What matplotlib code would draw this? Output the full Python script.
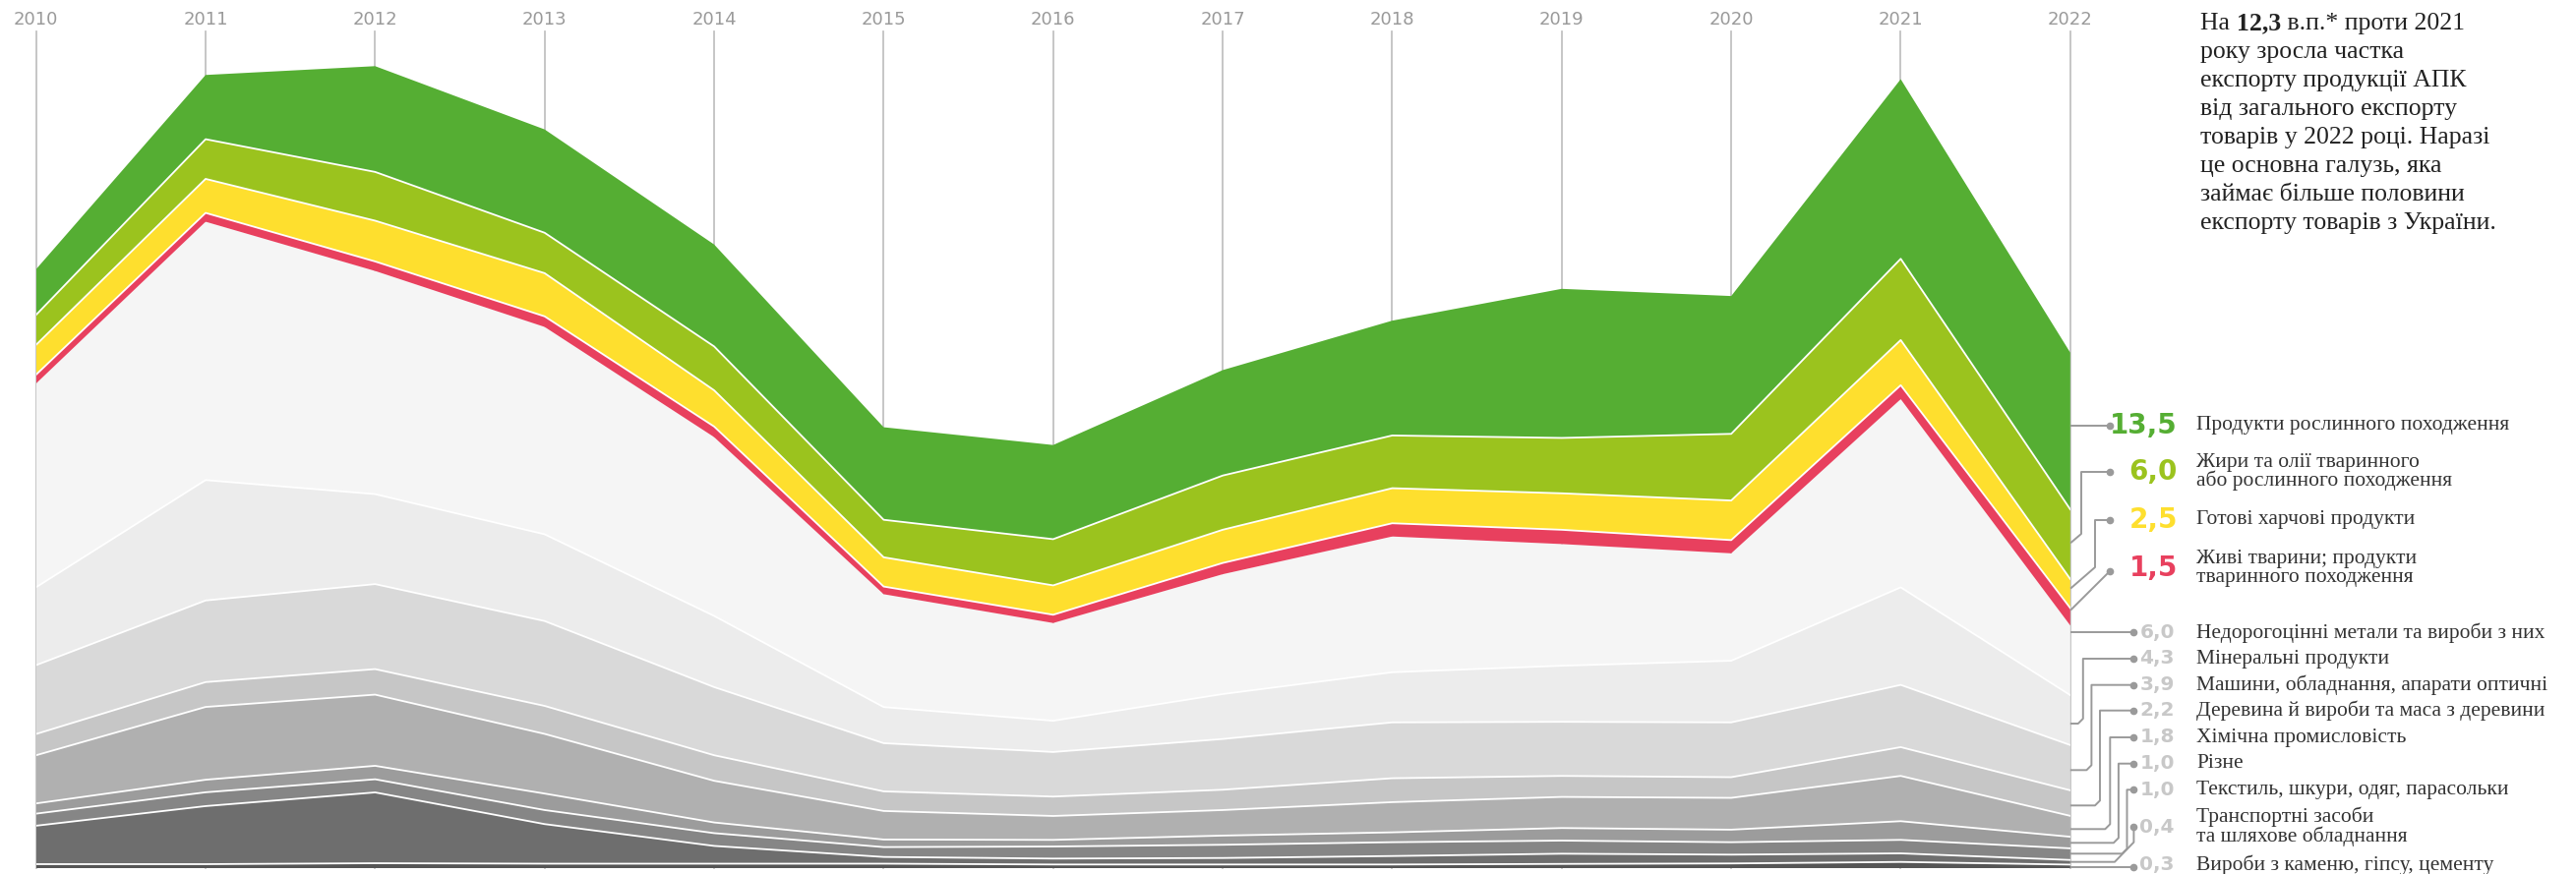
import numpy as np
import matplotlib.pyplot as plt
from matplotlib.transforms import blended_transform_factory

W, H = 2619, 889
years = list(range(2010, 2023))

# export by product group, bn USD (stack order: bottom -> top)
stone     = [0.34, 0.34, 0.42, 0.38, 0.38, 0.38, 0.31, 0.31, 0.31, 0.36, 0.40, 0.53, 0.3]
transport = [3.31, 5.00, 6.10, 3.41, 1.53, 0.58, 0.51, 0.56, 0.73, 0.88, 0.76, 0.74, 0.4]
textile   = [1.04, 1.19, 1.13, 1.21, 1.10, 0.85, 1.04, 1.14, 1.19, 1.13, 1.07, 1.16, 1.0]
misc      = [0.88, 1.08, 1.16, 1.42, 0.92, 0.65, 0.57, 0.79, 0.85, 1.08, 1.08, 1.61, 1.0]
chem      = [4.15, 6.27, 6.13, 5.14, 3.59, 2.46, 2.06, 2.20, 2.60, 2.68, 2.74, 3.90, 1.8]
wood      = [1.83, 2.14, 2.20, 2.41, 2.20, 1.69, 1.67, 1.75, 2.06, 1.81, 1.78, 2.48, 2.2]
machines  = [5.93, 7.03, 7.32, 7.31, 5.87, 4.15, 3.84, 4.37, 4.81, 4.66, 4.72, 5.36, 3.9]
mineral   = [6.71, 10.37, 7.75, 7.47, 6.13, 3.11, 2.69, 3.87, 4.32, 4.83, 5.31, 8.40, 4.3]
metals    = [17.55, 22.25, 19.22, 17.86, 15.40, 9.72, 8.42, 10.32, 11.69, 10.48, 9.25, 16.21, 6.0]
live      = [0.76, 0.76, 0.82, 0.91, 0.91, 0.66, 0.71, 0.97, 1.14, 1.23, 1.14, 1.20, 1.5]
food      = [2.57, 2.93, 3.51, 3.72, 3.12, 2.52, 2.53, 2.86, 3.02, 3.14, 3.41, 3.89, 2.5]
fats      = [2.58, 3.42, 4.20, 3.48, 3.78, 3.23, 3.98, 4.67, 4.54, 4.77, 5.74, 7.00, 6.0]
plant     = [3.93, 5.53, 9.11, 8.90, 8.78, 7.97, 8.11, 9.08, 9.89, 12.84, 11.87, 15.47, 13.5]

layers = [stone, transport, textile, misc, chem, wood, machines, mineral, metals,
          live, food, fats, plant]
colors = ['#555555', '#6e6e6e', '#868686', '#9c9c9c', '#b0b0b0', '#c6c6c6', '#d9d9d9',
          '#ececec', '#f5f5f5', '#e8405e', '#fedf2e', '#9bc31e', '#55ae33']

names_agri = ['Продукти рослинного походження',
              'Жири та олії тваринного\nабо рослинного походження',
              'Готові харчові продукти',
              'Живі тварини; продукти\nтваринного походження']
names_other = ['Недорогоцінні метали та вироби з них', 'Мінеральні продукти',
               'Машини, обладнання, апарати оптичні', 'Деревина й вироби та маса з деревини',
               'Хімічна промисловість', 'Різне', 'Текстиль, шкури, одяг, парасольки',
               'Транспортні засоби\nта шляхове обладнання', 'Вироби з каменю, гіпсу, цементу']

note = ['року зросла частка', 'експорту продукції АПК', 'від загального експорту',
        'товарів у 2022 році. Наразі', 'це основна галузь, яка',
        'займає більше половини', 'експорту товарів з України.']

fig = plt.figure(figsize=(W / 100, H / 100), dpi=100)
x0, x1, ybase, ytop = 36.7, 2104.8, 883, 32
px_per_unit = 11.81
ax = fig.add_axes([x0 / W, (H - ybase) / H, (x1 - x0) / W, (ybase - ytop) / H])
ax.stackplot(years, *layers, colors=colors, linewidth=0, zorder=2)
cum = np.cumsum(layers, axis=0)
for i in range(len(layers) - 1):
    if i == 8:  # no separator between metals and live animals
        continue
    ax.plot(years, cum[i], color='white', lw=1.3, zorder=3)
for yr in years:
    ax.axvline(yr, color='#c2c2c2', lw=1.3, zorder=1, clip_on=False)
ax.set_xlim(2010, 2022)
ax.set_ylim(0, (ybase - ytop) / px_per_unit)
ax.axis('off')

ov = fig.add_axes([0, 0, 1, 1], zorder=5)
ov.set_xlim(0, W)
ov.set_ylim(H, 0)
ov.axis('off')
ov.patch.set_alpha(0)

tr = blended_transform_factory(ax.transData, ov.transData)
for yr in years:
    ov.text(yr, 20, str(yr), transform=tr, ha='center', va='center',
            fontsize=13, color='#9a9a9a', family='DejaVu Sans')

# note at top right
serif = 'Liberation Serif'
t = ov.text(2237, 30, 'На ', fontsize=18.5, family=serif, color='#222222', va='baseline')
t = ov.annotate('12,3', xy=(1, 0), xycoords=t, va='bottom', fontsize=18.5,
                family=serif, fontweight='bold', color='#222222')
ov.annotate(' в.п.* проти 2021', xy=(1, 0), xycoords=t, va='bottom', fontsize=18.5,
            family=serif, color='#222222')
for i, line in enumerate(note):
    ov.text(2237, 30 + 29.0 * (i + 1), line, fontsize=18.5, family=serif,
            color='#222222', va='baseline')

# legend with leader lines
edge = 2105.8
lead = '#9a9a9a'
agri_vals = [plant[-1], fats[-1], food[-1], live[-1]]
agri_cols = [colors[12], colors[11], colors[10], colors[9]]
agri_y = [433, 480, 529, 578]
agri_paths = [
    [(edge, 433), (2145, 433)],
    [(edge, 551.7), (2116, 543), (2116, 480), (2145, 480)],
    [(edge, 598), (2130, 577), (2130, 529), (2145, 529)],
    [(edge, 620), (2145, 581)],
]
for v, c, y, nm, p in zip(agri_vals, agri_cols, agri_y, names_agri, agri_paths):
    xs, ys = zip(*p)
    ov.plot(xs, ys, color=lead, lw=1.4)
    ov.plot(xs[-1], ys[-1], 'o', color=lead, ms=4.5)
    ov.text(2214, y, f'{v:.1f}'.replace('.', ','), ha='right', va='center',
            fontsize=20, fontweight='bold', color=c, family='DejaVu Sans')
    ov.text(2233, y, nm, ha='left', va='center', fontsize=15.5, color='#333333',
            family=serif, linespacing=0.95)

other_vals = [metals[-1], mineral[-1], machines[-1], wood[-1], chem[-1], misc[-1],
              textile[-1], transport[-1], stone[-1]]
other_y = [643.3, 670, 696.7, 722.7, 750, 776.7, 803.3, 841, 880]
edge_y = [643.3, 736, 783.3, 819.3, 843.3, 857.3, 868.3, 876.7, 881.7]
corner_x = [None, 2117.8, 2126.4, 2135, 2145.3, 2153.9, 2162.5, 2169.4, None]
dot_x = 2169.4
for v, y, ey, cx, nm in zip(other_vals, other_y, edge_y, corner_x, names_other):
    if cx is None:
        xs, ys = [edge, dot_x], [ey, ey]
        yd = ey
    elif cx == dot_x:
        xs, ys = [edge, 2150, dot_x, dot_x], [ey, ey, ey - 20, y]
        yd = y
    else:
        d = 5
        xs, ys = [edge, cx - d, cx, cx, dot_x], [ey, ey, ey - d, y, y]
        yd = y
    ov.plot(xs, ys, color=lead, lw=1.4)
    ov.plot(dot_x, yd, 'o', color=lead, ms=4.5)
    ov.text(2211, y, f'{v:.1f}'.replace('.', ','), ha='right', va='center',
            fontsize=14.5, fontweight='bold', color='#c8c8c8', family='DejaVu Sans')
    ov.text(2233, y, nm, ha='left', va='center', fontsize=15.5, color='#333333',
            family=serif, linespacing=0.95)

fig.savefig('out.png', dpi=100)
